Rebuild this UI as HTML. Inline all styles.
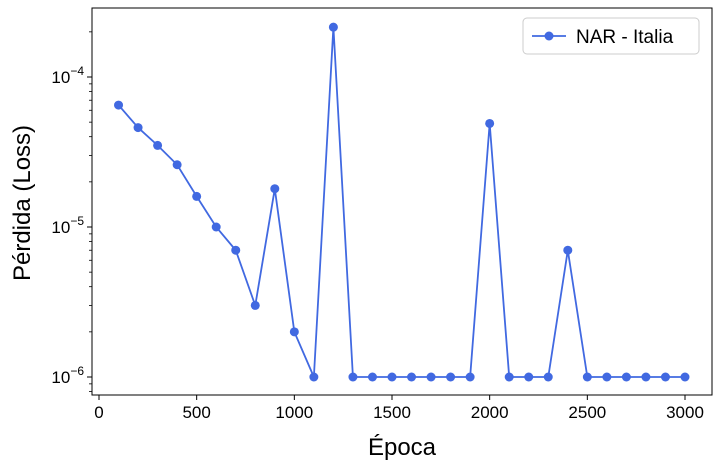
<!DOCTYPE html>
<html><head><meta charset="utf-8">
<style>
body{margin:0;background:#fff;}
svg text{font-family:"Liberation Sans",sans-serif;fill:#000;}
</style></head>
<body>
<svg id="chart" width="721" height="470" xmlns="http://www.w3.org/2000/svg">
<rect x="92" y="8" width="620" height="387" fill="none" stroke="#000" stroke-width="1"/>
<g id="axes"></g>
<g id="series"></g>
<text x="402" y="455" font-size="24" text-anchor="middle">Época</text>
<text transform="translate(30,203) rotate(-90)" font-size="24" text-anchor="middle">Pérdida (Loss)</text>
<g>
<rect x="523" y="18" width="176" height="36" rx="4" fill="#fff" stroke="#ccc"/>
<line x1="532" y1="36" x2="566" y2="36" stroke="#4169e1" stroke-width="1.8"/>
<circle cx="549" cy="36" r="4.5" fill="#4169e1"/>
<text x="576" y="43" font-size="19">NAR - Italia</text>
</g>
</svg>
<script>
const epochs=[100,200,300,400,500,600,700,800,900,1000,1100,1200,1300,1400,1500,1600,1700,1800,1900,2000,2100,2200,2300,2400,2500,2600,2700,2800,2900,3000];
const losses=[6.5e-5,4.6e-5,3.5e-5,2.6e-5,1.6e-5,1e-5,7e-6,3e-6,1.8e-5,2e-6,1e-6,2.15e-4,1e-6,1e-6,1e-6,1e-6,1e-6,1e-6,1e-6,4.9e-5,1e-6,1e-6,1e-6,7e-6,1e-6,1e-6,1e-6,1e-6,1e-6,1e-6];
const xTicks=[0,500,1000,1500,2000,2500,3000];
const yTickExps=[-6,-5,-4];
const NS="http://www.w3.org/2000/svg";
function xs(v){return 99+(v/3000)*586;}
function ys(v){return 377-(Math.log10(v)+6)*150;}
const axes=document.getElementById('axes'), ser=document.getElementById('series');
function mk(tag,attrs,parent){const e=document.createElementNS(NS,tag);for(const k in attrs)e.setAttribute(k,attrs[k]);parent.appendChild(e);return e;}
xTicks.forEach(t=>{
  const x=xs(t);
  const l=mk('line',{x1:x,x2:x,y1:395,y2:400,stroke:'#000'},axes);
  
  
  const tx=mk('text',{x:x,y:418,'font-size':'17','text-anchor':'middle'},axes);
  tx.textContent=t;
  
  
});
for(let e=-7;e<=-3;e++){for(let m=2;m<=9;m++){const v=m*Math.pow(10,e);const y=ys(v);if(y<8||y>395)continue;
  const l=mk('line',{x1:89,x2:92,y1:y,y2:y,stroke:'#000','stroke-width':0.8},axes);
  
  }}
yTickExps.forEach(e=>{
  const y=ys(Math.pow(10,e));
  const l=mk('line',{x1:87,x2:92,y1:y,y2:y,stroke:'#000'},axes);
  
  
  const tx=mk('text',{x:84,y:y+6,'font-size':'17','text-anchor':'end'},axes);
  tx.innerHTML='10<tspan dy="-8" font-size="12">−'+(-e)+'</tspan>';
  
  
});
const pts=epochs.map((e,i)=>xs(e)+','+ys(losses[i])).join(' ');
const pl=mk('polyline',{points:pts,fill:'none',stroke:'#4169e1','stroke-width':1.8},ser);


epochs.forEach((e,i)=>{
  const c=mk('circle',{cx:xs(e),cy:ys(losses[i]),r:4.5,fill:'#4169e1'},ser);
  
  
});
</script>
</body></html>
